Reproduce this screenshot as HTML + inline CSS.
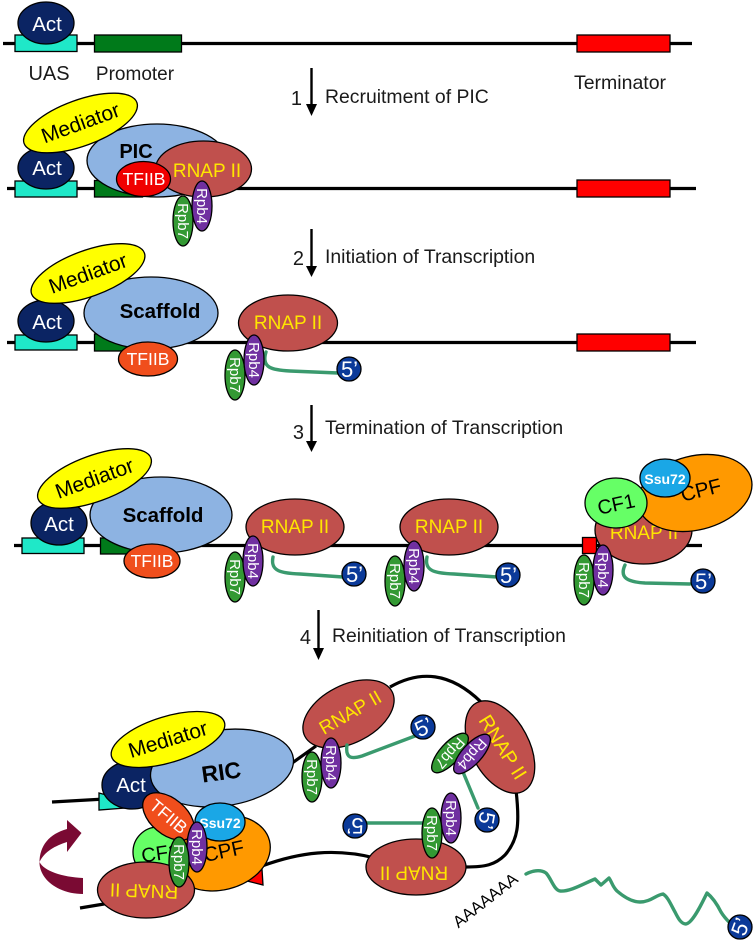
<!DOCTYPE html>
<html><head><meta charset="utf-8"><style>
html,body{margin:0;padding:0;background:#fff;width:756px;height:942px;overflow:hidden}
svg{display:block}
text{font-family:"Liberation Sans",sans-serif;text-anchor:middle}
.e{stroke:#000;stroke-width:1.3}
.act{fill:#0b2463}.med{fill:#ffff00}.blue{fill:#8db3e2}.rn{fill:#c0504d}.r4{fill:#7030a0}.r7{fill:#339933}
.iib{fill:#f04e1c}.cf{fill:#66ff66}.cpf{fill:#ff9900}.ssu{fill:#1aa7e6}.c5{fill:#0b3a99}
.w{fill:#fff}.y{fill:#ffe600}.k{fill:#000}
.l{font-size:19.400px;fill:#1a1a1a;text-anchor:start}
.n{font-size:20px;fill:#1a1a1a}
.dna{stroke:#000;stroke-width:3.2;fill:none}
.rna{stroke:#3a9a6e;stroke-width:3.400;fill:none;stroke-linecap:round;stroke-linejoin:round}
.rn-t{font-size:19px}.act-t{font-size:20.500px}.med-t{font-size:21px}.b{font-weight:bold}
.p{font-size:15px}.five{font-size:22px}.tf{font-size:17.500px}
</style></head><body>
<svg width="756" height="942" viewBox="0 0 756 942" xmlns="http://www.w3.org/2000/svg">
<!-- ROW 1 -->
<line class="dna" x1="3" y1="43.500" x2="692" y2="43.500"/>
<rect x="15" y="35" width="62" height="16.500" fill="#1fe8c8" class="e"/>
<rect x="94.500" y="35" width="87" height="17" fill="#007a1a" class="e"/>
<rect x="577" y="35" width="93" height="17" fill="#ff0000" class="e"/>
<ellipse class="e act" cx="46" cy="23" rx="28" ry="21"/>
<text class="w act-t" x="47" y="31">Act</text>
<text x="49" y="80" font-size="20" fill="#1a1a1a">UAS</text>
<text x="135" y="80" font-size="19" fill="#1a1a1a">Promoter</text>
<text x="620" y="89" font-size="19.500" fill="#1a1a1a">Terminator</text>

<!-- arrows -->
<path d="M311.500 68V104" stroke="#000" stroke-width="2.400"/><path d="M306 104H317L311.500 116Z" fill="#000"/>
<text class="n" x="302" y="105" style="text-anchor:end">1</text>
<text class="l" x="325" y="103">Recruitment of PIC</text>
<path d="M311.500 229V267" stroke="#000" stroke-width="2.400"/><path d="M306 266H317L311.500 277Z" fill="#000"/>
<text class="n" x="304" y="265" style="text-anchor:end">2</text>
<text class="l" x="325" y="263">Initiation of Transcription</text>
<path d="M311.500 405V442" stroke="#000" stroke-width="2.400"/><path d="M306 441H317L311.500 452Z" fill="#000"/>
<text class="n" x="304" y="439" style="text-anchor:end">3</text>
<text class="l" x="325" y="434">Termination of Transcription</text>
<path d="M318.500 610V649" stroke="#000" stroke-width="2.400"/><path d="M313 648H324L318.500 660Z" fill="#000"/>
<text class="n" x="311" y="644" style="text-anchor:end">4</text>
<text class="l" x="332" y="642">Reinitiation of Transcription</text>

<!-- ROW 2 -->
<line class="dna" x1="7" y1="188.500" x2="696" y2="188.500"/>
<rect x="15" y="181" width="62" height="16" fill="#1fe8c8" class="e"/>
<rect x="94.500" y="180.500" width="48" height="16.500" fill="#007a1a" class="e"/>
<rect x="577" y="180" width="93" height="17" fill="#ff0000" class="e"/>
<ellipse class="e act" cx="46" cy="168" rx="28" ry="21"/>
<text class="w act-t" x="47" y="175">Act</text>
<ellipse class="e blue" cx="157" cy="160.500" rx="70" ry="36.500"/>
<ellipse class="e med" cx="80.500" cy="123" rx="60" ry="23" transform="rotate(-20 80.500 123)"/>
<text class="k med-t" x="80.500" y="130" transform="rotate(-20 80.500 123)">Mediator</text>
<text class="k b" x="136" y="158" font-size="20">PIC</text>
<ellipse class="e rn" cx="203.500" cy="169" rx="48" ry="28"/>
<text class="y rn-t" x="207" y="177">RNAP II</text>
<ellipse class="e" fill="#f00000" cx="143.500" cy="179" rx="27" ry="17.500"/>
<text class="w tf" x="144" y="185">TFIIB</text>
<ellipse class="e r7" cx="183" cy="221" rx="10" ry="25"/>
<text class="w p" x="183" y="226" transform="rotate(90 183 221)">Rpb7</text>
<ellipse class="e r4" cx="202" cy="206" rx="10" ry="25"/>
<text class="w p" x="202" y="211" transform="rotate(90 202 206)">Rpb4</text>

<!-- ROW 3 -->
<line class="dna" x1="7" y1="342.500" x2="696" y2="342.500"/>
<rect x="15" y="335" width="62" height="15" fill="#1fe8c8" class="e"/>
<rect x="94.500" y="334" width="50" height="17" fill="#007a1a" class="e"/>
<rect x="577" y="334" width="93" height="17" fill="#ff0000" class="e"/>
<ellipse class="e act" cx="46" cy="321" rx="28" ry="21"/>
<text class="w act-t" x="47" y="329">Act</text>
<ellipse class="e blue" cx="151" cy="313" rx="67" ry="36"/>
<ellipse class="e med" cx="88" cy="273.500" rx="60" ry="23" transform="rotate(-20 88 273.500)"/>
<text class="k med-t" x="88" y="280.500" transform="rotate(-20 88 273.500)">Mediator</text>
<text class="k b" x="160" y="318" font-size="20.500">Scaffold</text>
<ellipse class="e iib" cx="148" cy="359" rx="29.500" ry="17"/>
<text class="w tf" x="148" y="365">TFIIB</text>
<ellipse class="e rn" cx="288" cy="323" rx="49.500" ry="28"/>
<text class="y rn-t" x="288" y="329">RNAP II</text>
<path class="rna" d="M266 352C261 368 272 370 290 371L338 373"/>
<ellipse class="e r7" cx="235" cy="375" rx="10" ry="25"/>
<text class="w p" x="235" y="380" transform="rotate(90 235 375)">Rpb7</text>
<ellipse class="e r4" cx="254" cy="360" rx="10" ry="25"/>
<text class="w p" x="254" y="365" transform="rotate(90 254 360)">Rpb4</text>
<circle class="e c5" cx="349" cy="369" r="12"/>
<text class="w five" x="349.500" y="377">5’</text>

<!-- ROW 4 -->
<line class="dna" x1="14" y1="545.500" x2="702" y2="545.500"/>
<rect x="22" y="538" width="62" height="15.500" fill="#1fe8c8" class="e"/>
<rect x="100.500" y="538" width="50" height="16" fill="#007a1a" class="e"/>
<ellipse class="e act" cx="59" cy="523" rx="28" ry="22"/>
<text class="w act-t" x="59" y="531">Act</text>
<ellipse class="e blue" cx="161" cy="515" rx="71" ry="38"/>
<ellipse class="e med" cx="94.500" cy="478.500" rx="60" ry="23" transform="rotate(-20 94.500 478.500)"/>
<text class="k med-t" x="94.500" y="485.500" transform="rotate(-20 94.500 478.500)">Mediator</text>
<text class="k b" x="163" y="522" font-size="20.500">Scaffold</text>
<ellipse class="e iib" cx="152" cy="561" rx="28" ry="17"/>
<text class="w tf" x="152" y="567">TFIIB</text>

<ellipse class="e rn" cx="295" cy="527" rx="49" ry="28"/>
<text class="y rn-t" x="295" y="533">RNAP II</text>
<path class="rna" d="M273 557C270 572 282 573 300 574L343 577"/>
<ellipse class="e r7" cx="235" cy="577" rx="10" ry="25"/>
<text class="w p" x="235" y="582" transform="rotate(90 235 577)">Rpb7</text>
<ellipse class="e r4" cx="253" cy="561" rx="10" ry="25"/>
<text class="w p" x="253" y="566" transform="rotate(90 253 561)">Rpb4</text>
<circle class="e c5" cx="354" cy="574" r="12"/>
<text class="w five" x="354.500" y="582">5’</text>

<ellipse class="e rn" cx="449" cy="527" rx="49" ry="28"/>
<text class="y rn-t" x="449" y="533">RNAP II</text>
<path class="rna" d="M427 557C424 572 436 573 454 574L497 577"/>
<ellipse class="e r7" cx="395" cy="581" rx="10" ry="25"/>
<text class="w p" x="395" y="586" transform="rotate(90 395 581)">Rpb7</text>
<ellipse class="e r4" cx="414" cy="566" rx="10" ry="25"/>
<text class="w p" x="414" y="571" transform="rotate(90 414 566)">Rpb4</text>
<circle class="e c5" cx="508" cy="575" r="12"/>
<text class="w five" x="508.500" y="583">5’</text>

<rect x="582.500" y="537.500" width="14" height="16" fill="#ff0000" class="e"/>
<ellipse class="e rn" cx="643.500" cy="530" rx="48.500" ry="34"/>
<text class="y rn-t" x="644" y="539">RNAP II</text>
<path class="rna" d="M625 565C619 578 628 582 645 583L690 584"/>
<ellipse class="e cpf" cx="695" cy="493" rx="58" ry="37" transform="rotate(-14 695 493)"/>
<text class="k" x="701" y="497" font-size="20.500" transform="rotate(-14 701 490)">CPF</text>
<ellipse class="e cf" cx="616" cy="503" rx="31" ry="25"/>
<text class="k" x="616" y="511" font-size="20" transform="rotate(-12 616 503)">CF1</text>
<ellipse class="e ssu" cx="665" cy="478" rx="25" ry="19"/>
<text class="w b" x="665" y="484" font-size="14">Ssu72</text>
<ellipse class="e r7" cx="584" cy="580" rx="10" ry="25"/>
<text class="w p" x="584" y="585" transform="rotate(90 584 580)">Rpb7</text>
<ellipse class="e r4" cx="603" cy="570" rx="10" ry="25"/>
<text class="w p" x="603" y="575" transform="rotate(90 603 570)">Rpb4</text>
<circle class="e c5" cx="703" cy="581" r="12"/>
<text class="w five" x="703.500" y="589">5’</text>

<!-- BOTTOM -->
<path class="dna" d="M52 802L105 799"/>
<path class="dna" d="M80 908L110 903"/>
<path class="dna" d="M262 866C300 852 335 848 375 858"/>
<path class="dna" d="M288 766L316 746"/>
<path class="dna" d="M390 687C420 670 450 672 481 702"/>
<path class="dna" d="M516 790C520 825 518 840 505 855C495 865 485 867 466 867"/>
<polygon points="99,793 125,800 125,808 99,810" fill="#1fe8c8" class="e"/>
<polygon points="243,880 262,869 263,885" fill="#ff0000" class="e"/>
<ellipse class="e act" cx="132" cy="785" rx="30" ry="24"/>
<text class="w act-t" x="131" y="792">Act</text>
<ellipse class="e blue" cx="222" cy="768" rx="72" ry="38" transform="rotate(-8 222 768)"/>
<ellipse class="e med" cx="168" cy="739.500" rx="59" ry="23" transform="rotate(-17 168 739.500)"/>
<text class="k med-t" x="168" y="746.500" transform="rotate(-17 168 739.500)">Mediator</text>
<text class="k b" x="221" y="780" font-size="23" transform="rotate(-8 221 770)">RIC</text>

<ellipse class="e cpf" cx="220" cy="853" rx="51" ry="37" transform="rotate(-14 220 853)"/>
<text class="k" x="224" y="858" font-size="20.500" transform="rotate(-12 224 852)">CPF</text>
<ellipse class="e ssu" cx="220" cy="822" rx="25" ry="19"/>
<ellipse class="e cf" cx="158" cy="852" rx="25" ry="25"/>
<text class="k" x="160" y="860" font-size="20" transform="rotate(-8 160 852)">CF1</text>
<ellipse class="e iib" cx="168.500" cy="816.500" rx="30" ry="18" transform="rotate(40 168.500 816.500)"/>
<text class="w tf" x="168.500" y="822.500" transform="rotate(40 168.500 816.500)">TFIIB</text>
<text class="w b" x="220" y="828" font-size="14">Ssu72</text>
<ellipse class="e rn" cx="146" cy="890" rx="48.500" ry="28"/>
<text class="y rn-t" x="144" y="897.500" transform="rotate(182 144 891)">RNAP II</text>
<ellipse class="e r4" cx="197" cy="847" rx="10" ry="25"/>
<text class="w p" x="197" y="852" transform="rotate(90 197 847)">Rpb4</text>
<ellipse class="e r7" cx="179" cy="862" rx="10" ry="25"/>
<text class="w p" x="179" y="867" transform="rotate(90 179 862)">Rpb7</text>

<path d="M83 878C62 877 44 871 39.500 862C45 851 55 846 67 842L67 852L81.500 833L67 820L67 829C49 834 39 846 39.500 864C41 881 60 894 83 894Z" fill="#7a0a33"/>

<ellipse class="e rn" cx="348.500" cy="714" rx="49" ry="29" transform="rotate(-27 348.500 714)"/>
<text class="y rn-t" x="350" y="719" transform="rotate(-30 350 712)">RNAP II</text>
<path class="rna" d="M347 745C345 759 352 759 362 756L415 736"/>
<ellipse class="e r7" cx="312" cy="777" rx="10" ry="25"/>
<text class="w p" x="312" y="782" transform="rotate(90 312 777)">Rpb7</text>
<ellipse class="e r4" cx="331" cy="763" rx="10" ry="25"/>
<text class="w p" x="331" y="768" transform="rotate(90 331 763)">Rpb4</text>
<circle class="e c5" cx="423" cy="727" r="12"/>
<text class="w five" x="423.500" y="735" transform="rotate(-25 423 727)">5’</text>

<ellipse class="e rn" cx="500" cy="747" rx="50" ry="29" transform="rotate(62 500 747)"/>
<text class="y" font-size="20" x="503" y="754" transform="rotate(58 503 747)">RNAP II</text>
<path class="rna" d="M463 772L478 808"/>
<ellipse class="e r7" cx="450" cy="753" rx="10" ry="25" transform="rotate(42 450 753)"/>
<text class="w p" x="450" y="758" transform="rotate(132 450 753)">Rpb7</text>
<ellipse class="e r4" cx="472" cy="754" rx="10" ry="25" transform="rotate(42 472 754)"/>
<text class="w p" x="472" y="759" transform="rotate(132 472 754)">Rpb4</text>
<circle class="e c5" cx="487" cy="820" r="12"/>
<text class="w five" x="487.500" y="828" transform="rotate(100 487 820)">5’</text>

<ellipse class="e rn" cx="416" cy="867" rx="50" ry="28"/>
<text class="y rn-t" x="414" y="879.500" transform="rotate(180 414 873)">RNAP II</text>
<path class="rna" d="M360 823L423 823"/>
<ellipse class="e r4" cx="451" cy="818" rx="10" ry="25"/>
<text class="w p" x="451" y="823" transform="rotate(90 451 818)">Rpb4</text>
<ellipse class="e r7" cx="432" cy="833" rx="10" ry="25"/>
<text class="w p" x="432" y="838" transform="rotate(90 432 833)">Rpb7</text>
<circle class="e c5" cx="355" cy="826" r="12"/>
<text class="w five" x="355" y="834" transform="rotate(180 355 826)">5’</text>

<text x="485" y="906" font-size="16.500" fill="#000" transform="rotate(-38 485 900)">AAAAAAA</text>
<path class="rna" d="M526 874C532 871 540 869 546 873C551 878 554 890 560 891C570 892 585 883 595 879L601 885L609 878C612 882 612 886 617 891C624 897 632 902 640 902C650 902 656 895 663 894C668 897 671 905 675 912C678 918 681 924 686 924C693 923 703 901 707 893C712 897 717 904 721 912C724 917 727 920 730 923"/>
<circle class="e c5" cx="740" cy="927" r="12"/>
<text class="w five" x="740.500" y="935" transform="rotate(-70 740 927)">5’</text>
</svg>
</body></html>
